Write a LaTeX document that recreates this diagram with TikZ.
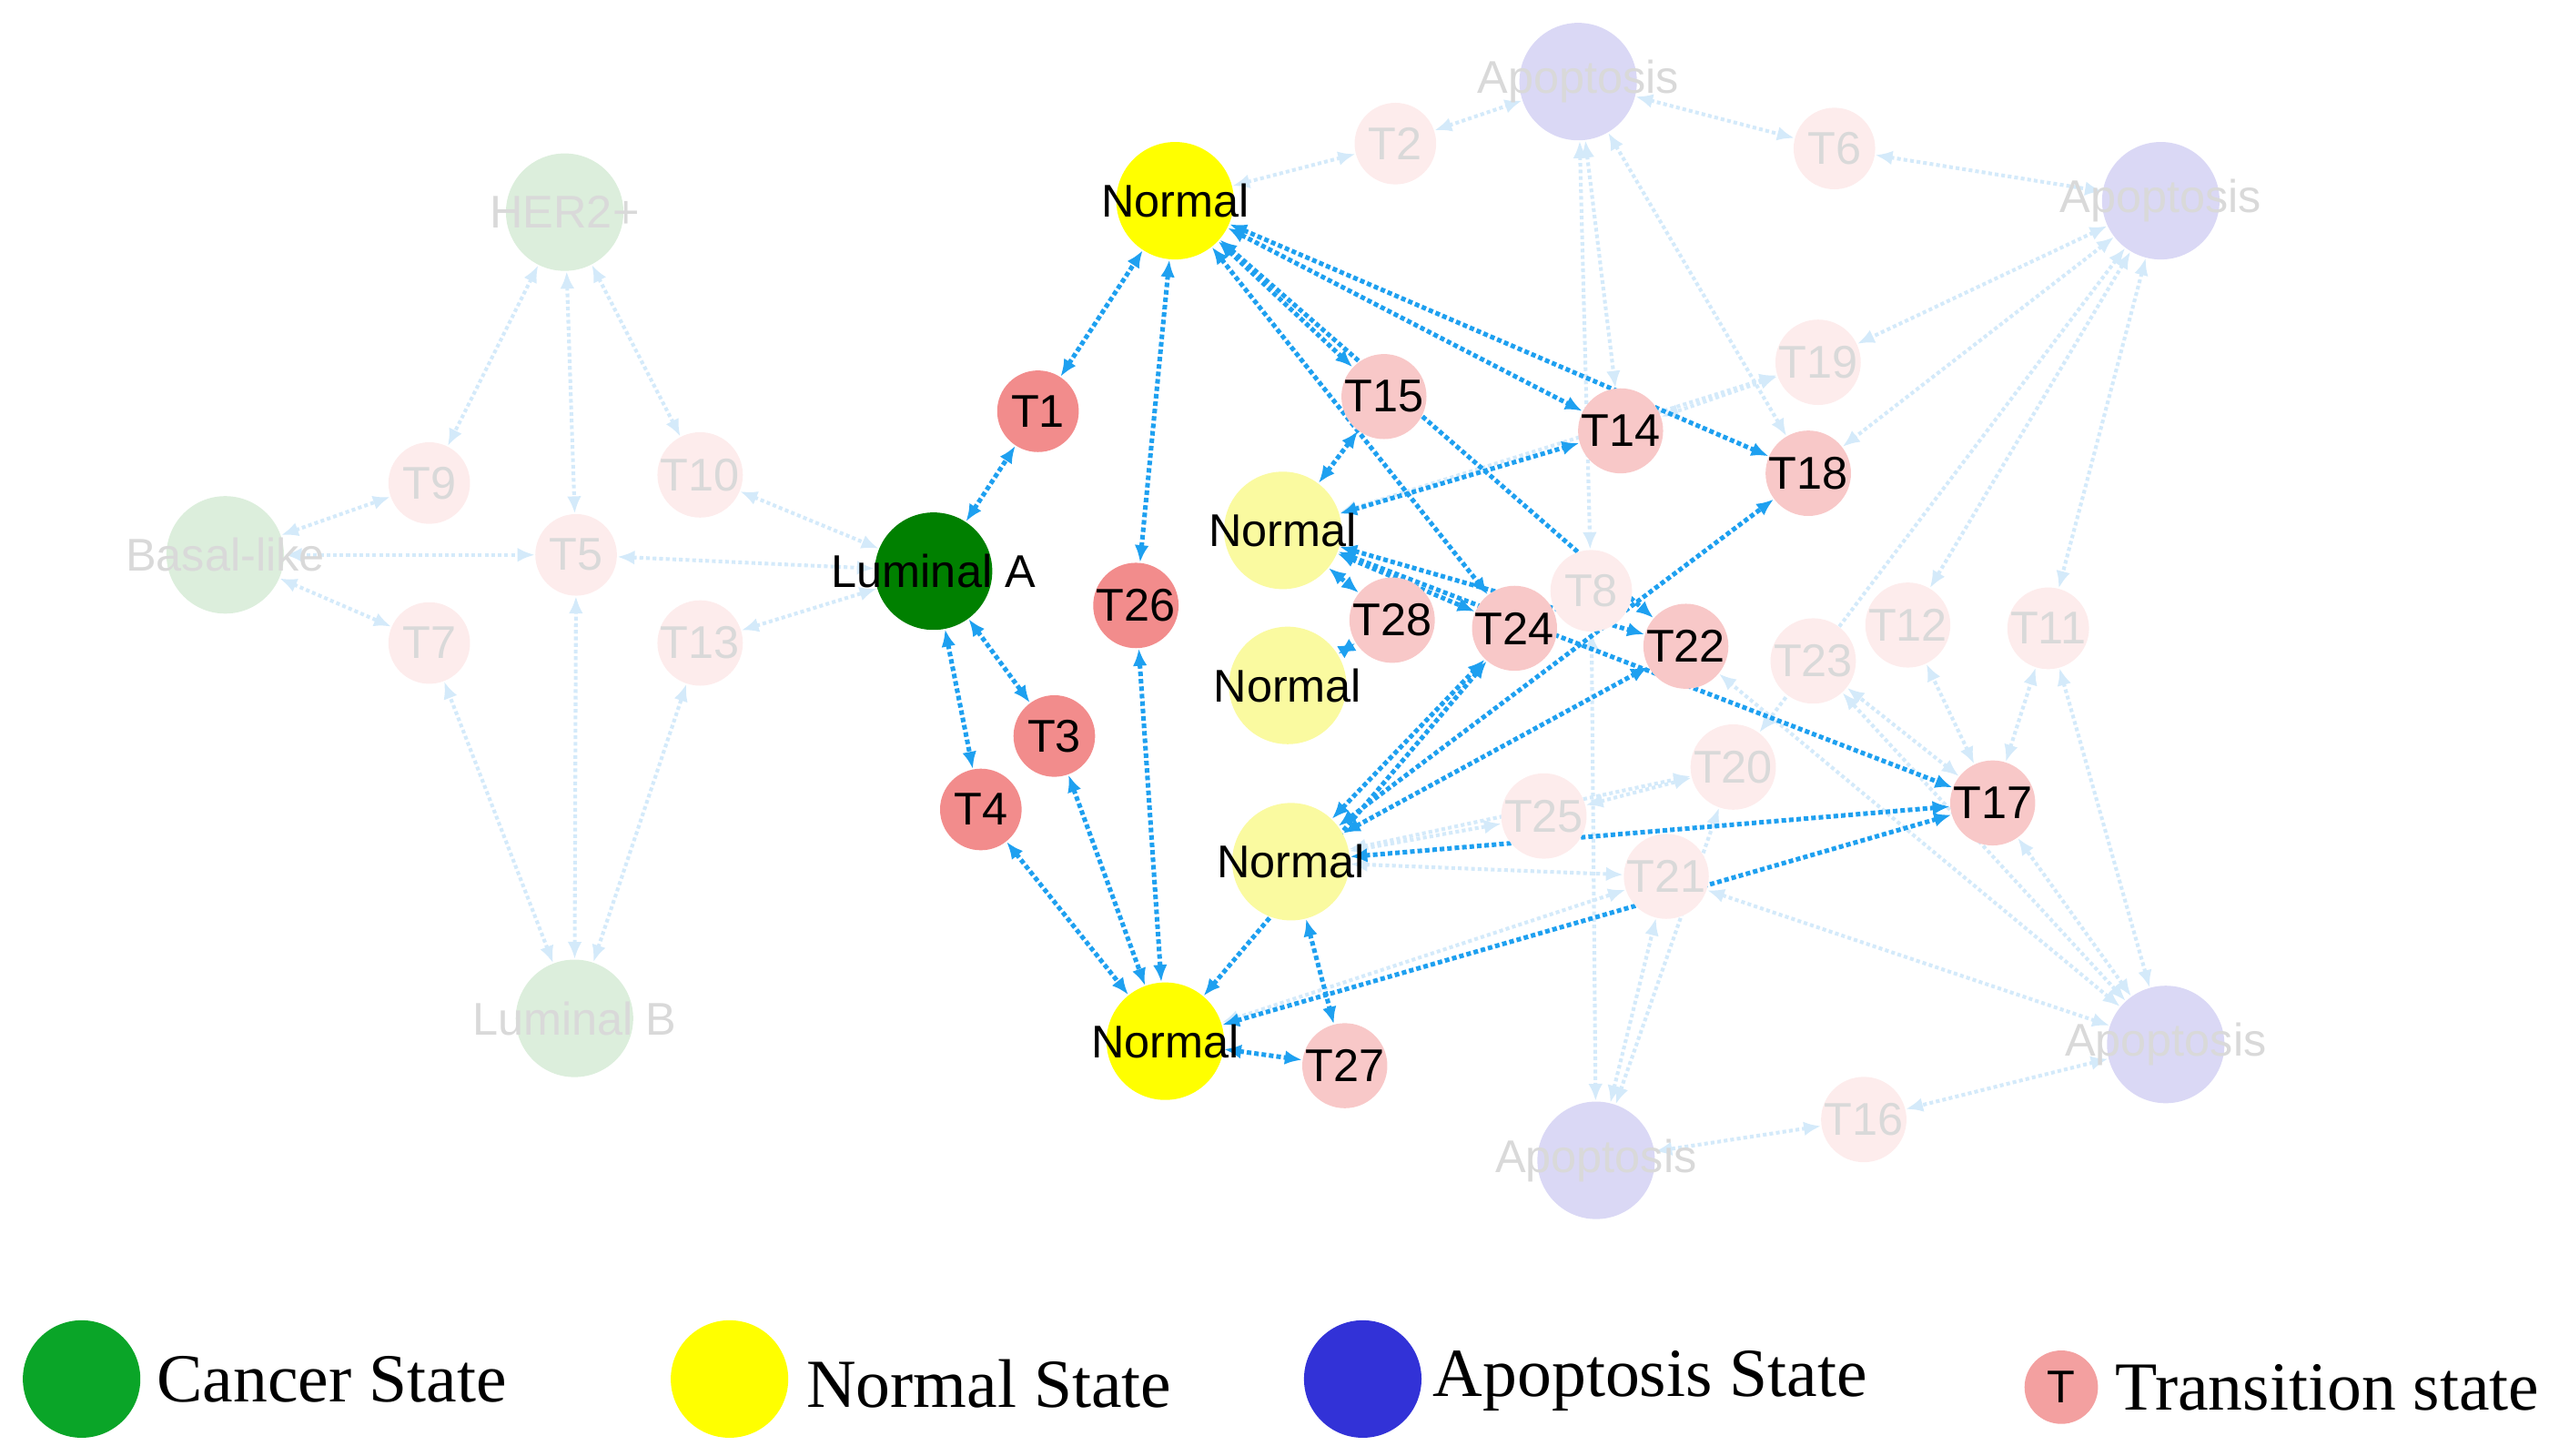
\documentclass[tikz,border=0pt]{standalone}
\usepackage{fontspec}
\setmainfont{Liberation Serif}
\newfontfamily\arialf{Liberation Sans}
\usetikzlibrary{backgrounds,arrows.meta}
\definecolor{canc}{RGB}{0,128,0}
\definecolor{norm}{RGB}{255,255,0}
\definecolor{normpale}{RGB}{250,250,160}
\definecolor{trans}{RGB}{242,140,140}
\definecolor{transmid}{RGB}{248,200,200}
\definecolor{transfade}{RGB}{253,236,236}
\definecolor{greenfade}{RGB}{220,238,220}
\definecolor{apofade}{RGB}{218,216,245}
\definecolor{linkblue}{RGB}{30,160,240}
\definecolor{linkfade}{RGB}{212,234,250}
\definecolor{legG}{RGB}{10,165,40}
\definecolor{legB}{RGB}{50,50,215}
\definecolor{legP}{RGB}{243,160,160}
\tikzset{
  st/.style={circle, inner sep=0pt, minimum size=1.44cm},
  lab/.style={label={[font=\arialf\fontsize{16}{16}\selectfont, text=#1]center:\nodetext}},
  tr/.style={circle, inner sep=0pt, minimum size=1.0cm, font=\arialf\fontsize{16}{16}\selectfont},
  hot/.style={densely dotted, line width=1.6pt, linkblue, {Latex[length=6pt,width=5pt]}-{Latex[length=6pt,width=5pt]}},
  cold/.style={densely dotted, line width=1.3pt, linkfade, {Latex[length=6pt,width=5pt]}-{Latex[length=6pt,width=5pt]}},
  leg/.style={font=\fontsize{24}{24}\selectfont, anchor=west}
}
\newcommand\statenode[5]{% name, x, y, fill, text colour + label
  \node[st, fill=#4, label={[font=\arialf\fontsize{16}{16}\selectfont, text=#5]center:#3}] (#1) at #2 {};}
\begin{document}
\begin{tikzpicture}[x=0.02cm, y=-0.02cm]
\useasboundingbox (0,0) rectangle (1568,892);
% faded part
\statenode{her}{(346,130)}{HER2+}{greenfade}{black!15}
\statenode{bas}{(138,340)}{Basal-like}{greenfade}{black!15}
\statenode{lub}{(352,624)}{Luminal B}{greenfade}{black!15}
\statenode{ap1}{(967,50)}{Apoptosis}{apofade}{black!15}
\statenode{ap2}{(1324,123)}{Apoptosis}{apofade}{black!15}
\statenode{ap3}{(1327,640)}{Apoptosis}{apofade}{black!15}
\statenode{ap4}{(978,711)}{Apoptosis}{apofade}{black!15}
\foreach \n/\x/\y in {9/263/296, 10/429/291, 5/353/340, 7/263/394, 13/429/394,
  2/855/88, 6/1124/91, 19/1114/222, 8/975/362, 12/1169/383, 11/1255/385,
  23/1111/405, 20/1062/470, 25/946/500, 21/1021/537, 16/1142/686}
  \node[tr, fill=transfade, text=black!15] (t\n) at (\x,\y) {T\n};
% highlighted part
\statenode{lA}{(572,350)}{Luminal A}{canc}{black}
\statenode{n1}{(720,123)}{Normal}{norm}{black}
\statenode{nb}{(714,638)}{Normal}{norm}{black}
\statenode{m1}{(786,325)}{Normal}{normpale}{black}
\statenode{m2}{(789,420)}{Normal}{normpale}{black}
\statenode{m3}{(791,528)}{Normal}{normpale}{black}
\foreach \n/\x/\y in {1/636/252, 26/696/371, 3/646/451, 4/601/496}
  \node[tr, fill=trans] (t\n) at (\x,\y) {T\n};
\foreach \n/\x/\y in {15/848/243, 28/853/380, 24/928/385, 22/1033/396,
  14/993/264, 18/1108/290, 17/1221/492, 27/824/653}
  \node[tr, fill=transmid] (t\n) at (\x,\y) {T\n};
\begin{scope}[on background layer]
\foreach \a/\b in {her/t9, her/t5, her/t10, bas/t9, bas/t5, bas/t7, t5/lA, t10/lA,
  t13/lA, lub/t7, lub/t5, lub/t13, n1/t2, t2/ap1, ap1/t6, t6/ap2, ap1/t14, ap1/t18,
  ap1/t8, ap2/t19, ap2/t12, ap2/t11, ap2/t20, t19/t14, ap3/t16, t16/ap4, ap4/t21,
  ap4/t20, ap3/t17, ap3/t21, ap3/t23, ap3/t22, t17/t12, t17/t11, t17/t23, t11/ap3,
  t8/ap4, m3/t25, m3/t21, m3/t20, ap2/t18, t19/m1, nb/t21, t25/t20}
  \draw[cold] (\a) -- (\b);
\foreach \a/\b in {lA/t1, t1/n1, lA/t3, lA/t4, n1/t26, t26/nb, t3/nb, t4/nb,
  n1/t15, n1/t14, n1/t18, n1/t24, n1/t22, m1/t15, m1/t14, m1/t24, m1/t22, m1/t17,
  t28/m2, m1/t28, m3/t24, m3/t22, m3/t18, m3/t17, nb/t24, nb/t17, nb/t27, m3/t27}
  \draw[hot] (\a) -- (\b);
\end{scope}
% legend
\node[circle, fill=legG, minimum size=1.44cm] (lg1) at (50,845) {};
\node[leg] (lt1) at (90,845) {Cancer State};
\node[circle, fill=norm, minimum size=1.44cm] (lg2) at (447,845) {};
\node[leg] (lt2) at (488,848) {Normal State};
\node[circle, fill=legB, minimum size=1.44cm] (lg3) at (835,845) {};
\node[leg] (lt3) at (872,846) {Apoptosis State};
\node[tr, fill=legP, minimum size=0.9cm] (lg4) at (1263,850) {T};
\node[leg] (lt4) at (1290,850) {Transition state};
\end{tikzpicture}
\end{document}
